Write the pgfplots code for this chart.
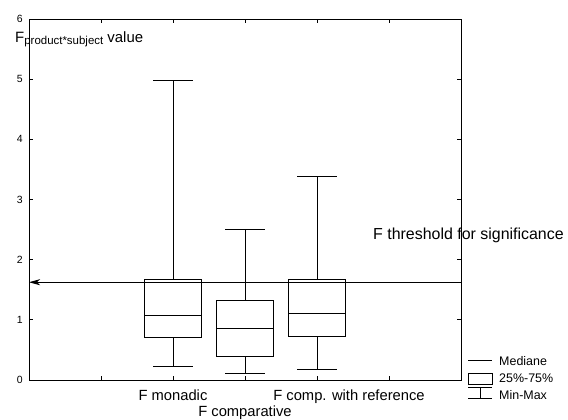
\documentclass[border=0pt]{standalone}
\usepackage{pgfplots}
\pgfplotsset{compat=1.18}
\usepackage{pgfplotstable}
\usepgfplotslibrary{statistics}
\usetikzlibrary{arrows.meta}
\usepackage{fontspec}
\setmainfont{Liberation Sans}

% min, quartiles, median, max of each F series
\pgfplotstableread{
lw    lq    med   uq    uw
0.23  0.70  1.07  1.675 4.98
0.105 0.39  0.86  1.32  2.51
0.17  0.73  1.10  1.675 3.39
}\boxdata

\begin{document}
\begin{tikzpicture}
\begin{axis}[
  at={(29bp,40bp)}, anchor=south west,
  scale only axis, width=432bp, height=361bp,
  xmin=0, xmax=6, ymin=0, ymax=6,
  xtick={0,...,6},
  xticklabels={,,F monadic,\raisebox{-15.5bp}{F comparative},\hspace*{64bp}F comp. with reference,,},
  ytick={0,...,6},
  tick align=inside,
  major tick length=3.5bp,
  axis line style={line width=0.9bp},
  every tick/.style={black, line width=0.8bp},
  xticklabel style={font=\fontsize{14.8}{17}\selectfont, anchor=base, inner sep=0pt, yshift=-20.7bp},
  yticklabel style={font=\fontsize{10.5}{12}\selectfont, anchor=east, inner sep=0pt, xshift=-6bp},
  /pgf/number format/assume math mode=true,
  clip=false,
  boxplot/draw direction=y,
  boxplot/box extend=0.8,
  boxplot/whisker extend=0.55,
]
\pgfplotsinvokeforeach{0,1,2}{
  \pgfplotstablegetelem{#1}{lw}\of\boxdata\let\vlw\pgfplotsretval
  \pgfplotstablegetelem{#1}{lq}\of\boxdata\let\vlq\pgfplotsretval
  \pgfplotstablegetelem{#1}{med}\of\boxdata\let\vmed\pgfplotsretval
  \pgfplotstablegetelem{#1}{uq}\of\boxdata\let\vuq\pgfplotsretval
  \pgfplotstablegetelem{#1}{uw}\of\boxdata\let\vuw\pgfplotsretval
  \edef\doplot{\noexpand\addplot[black, line width=0.8bp, solid,
    boxplot prepared={draw position=\the\numexpr#1+2\relax,
      lower whisker=\vlw, lower quartile=\vlq, median=\vmed,
      upper quartile=\vuq, upper whisker=\vuw}] coordinates {};}
  \doplot
}
% threshold line
\addplot[black, line width=0.8bp, {Stealth[length=11bp, width=6bp, inset=3bp]}-]
  coordinates {(0,1.625) (6,1.625)};
\end{axis}

\node[anchor=base west, inner sep=0pt] at (15bp,377.3bp)
  {\fontsize{15}{18}\selectfont F\raisebox{-2bp}{\fontsize{11.5}{13}\selectfont product*subject} value};
\node[anchor=base west, inner sep=0pt] at (373bp,180bp)
  {\fontsize{16}{19}\selectfont F threshold for significance};

% legend
\draw[line width=0.8bp] (468bp,60bp) -- (492bp,60bp);
\draw[line width=0.8bp] (468bp,36bp) rectangle (492bp,47bp);
\draw[line width=0.8bp] (468bp,32.3bp) -- (492bp,32.3bp) (480bp,32.3bp) -- (480bp,22bp) (468bp,22bp) -- (492bp,22bp);
\begin{scope}[every node/.style={anchor=base west, inner sep=0pt, font=\fontsize{12.5}{15}\selectfont}]
\node at (499bp,54.3bp) {Mediane};
\node at (499bp,37.3bp) {25\%-75\%};
\node at (499bp,20.7bp) {Min-Max};
\end{scope}

\pgfresetboundingbox
\path (0,0) rectangle (568bp,420bp);
\end{tikzpicture}
\end{document}
